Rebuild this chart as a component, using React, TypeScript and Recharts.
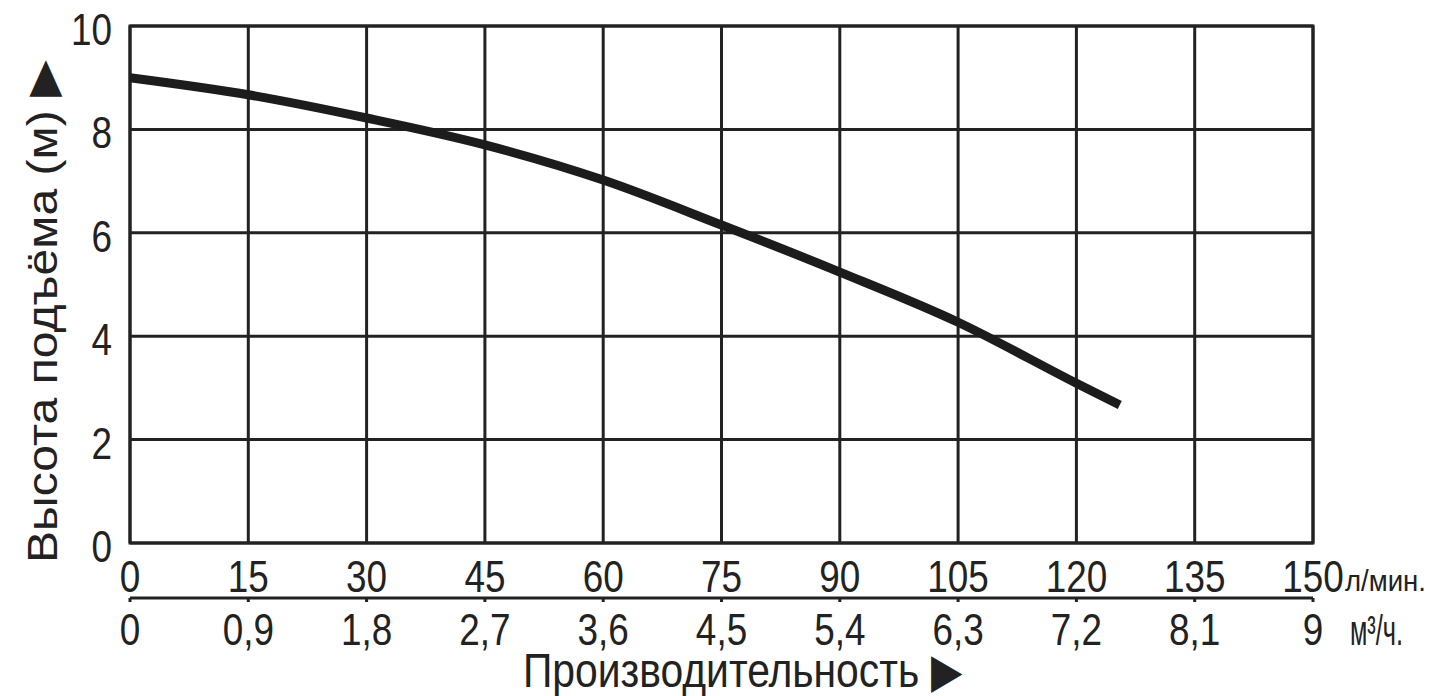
import { LineChart, Line, XAxis, YAxis, CartesianGrid, ReferenceArea, Label } from 'recharts';

// flow in л/мин. and head in м
const curveFlow = [0, 15, 30, 45, 60, 75, 90, 105, 120, 125.5];
const curveHead = [9.0, 8.67, 8.22, 7.7, 7.02, 6.15, 5.24, 4.27, 3.09, 2.67];

const flowTicks = [0, 15, 30, 45, 60, 75, 90, 105, 120, 135, 150];
const m3Labels = ['0', '0,9', '1,8', '2,7', '3,6', '4,5', '5,4', '6,3', '7,2', '8,1', '9'];
const headTicks = [0, 2, 4, 6, 8, 10];

const data = curveFlow.map((flow, i) => ({ flow, head: curveHead[i] }));

const FONT = "'Liberation Sans', Arial, sans-serif";
const INK = '#222';
const NARROW = 0.82;

// Arial Narrow look: Liberation Sans squeezed horizontally
const Narrow = ({ x, y, size, anchor = 'start', children }: any) => (
  <text
    transform={`translate(${x}, ${y}) scale(${NARROW}, 1)`}
    textAnchor={anchor}
    fontSize={size}
    fontFamily={FONT}
    fill={INK}
  >
    {children}
  </text>
);

const Unit = ({ x, y, size, len, children }: any) => (
  <text x={x} y={y} fontSize={size} textLength={len} lengthAdjust="spacingAndGlyphs" fontFamily={FONT} fill={INK}>
    {children}
  </text>
);

const FlowTick = ({ x, y, payload }: any) => (
  <g>
    <Narrow x={x} y={y + 47} size={45} anchor="middle">{payload.value}</Narrow>
    {payload.value === 150 && <Unit x={x + 32} y={y + 46} size={30} len={81}>л/мин.</Unit>}
  </g>
);

const M3Tick = ({ x, y, payload, index }: any) => (
  <g>
    <Narrow x={x} y={y + 41} size={45} anchor="middle">{m3Labels[index]}</Narrow>
    {payload.value === 150 && <Unit x={x + 37} y={y + 41} size={42} len={53}>м³/ч.</Unit>}
  </g>
);

const HeadTick = ({ x, y, payload }: any) => (
  <Narrow x={x} y={y + 19} size={45} anchor="end">{payload.value}</Narrow>
);

export default function App() {
  return (
    <div style={{ background: '#fff', width: 1430, height: 688 }}>
      <LineChart width={1430} height={688} data={data} margin={{ top: 18, right: 125, bottom: 0, left: 0 }}>
        <CartesianGrid xAxisId="a" stroke={INK} strokeWidth={3} />
        <XAxis
          xAxisId="a"
          dataKey="flow"
          type="number"
          domain={[0, 150]}
          ticks={flowTicks}
          interval={0}
          height={55}
          axisLine={false}
          tickLine={false}
          tickSize={0}
          tick={<FlowTick />}
        />
        <XAxis
          xAxisId="b"
          dataKey="flow"
          type="number"
          domain={[0, 150]}
          ticks={flowTicks}
          interval={0}
          height={98}
          axisLine={{ stroke: INK, strokeWidth: 3 }}
          tickLine={{ stroke: INK, strokeWidth: 3 }}
          tickSize={4}
          tick={<M3Tick />}
        >
          <Label
            content={({ viewBox }: any) => (
              <text
                x={viewBox.x + viewBox.width / 2 + 21}
                y={viewBox.y + 89}
                textAnchor="middle"
                textLength={439}
                lengthAdjust="spacingAndGlyphs"
                fontSize={48}
                fontFamily={FONT}
                fill={INK}
              >
                Производительность ▶
              </text>
            )}
          />
        </XAxis>
        <YAxis
          type="number"
          domain={[0, 10]}
          ticks={headTicks}
          interval={0}
          width={122}
          axisLine={false}
          tickLine={false}
          tickSize={0}
          tickMargin={18}
          tick={<HeadTick />}
        >
          <Label
            content={({ viewBox }: any) => {
              const cx = viewBox.x + 49;
              const cy = viewBox.y + viewBox.height / 2 + 27;
              return (
                <text
                  transform={`translate(${cx}, ${cy}) rotate(-90)`}
                  textAnchor="middle"
                  textLength={503}
                  lengthAdjust="spacingAndGlyphs"
                  fontSize={43}
                  fontFamily={FONT}
                  fill={INK}
                >
                  Высота подъёма (м) ▶
                </text>
              );
            }}
          />
        </YAxis>
        <ReferenceArea
          xAxisId="a"
          x1={0}
          x2={150}
          y1={0}
          y2={10}
          fill="none"
          fillOpacity={0}
          stroke={INK}
          strokeWidth={3}
          ifOverflow="visible"
        />
        <Line
          xAxisId="a"
          type="monotone"
          dataKey="head"
          stroke="#1c1c1c"
          strokeWidth={9}
          dot={false}
          activeDot={false}
          isAnimationActive={false}
        />
      </LineChart>
    </div>
  );
}
